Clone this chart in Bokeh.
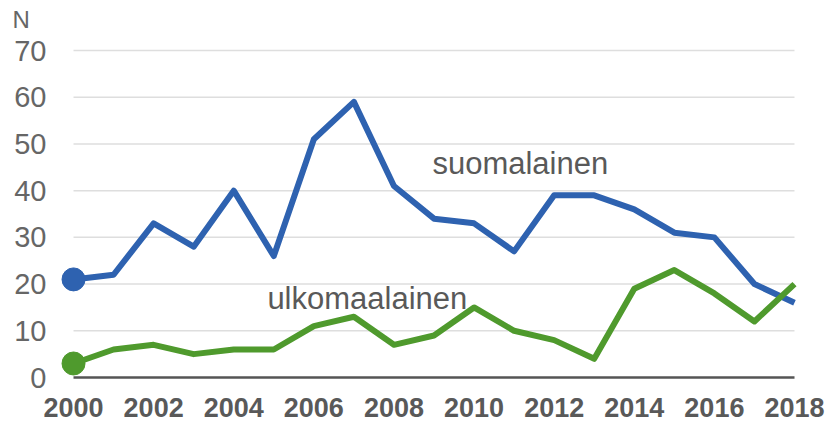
from bokeh.plotting import figure
from bokeh.models import Range1d, FixedTicker
from bokeh.embed import file_html
from bokeh.resources import INLINE
from bokeh.core.properties import value

years = list(range(2000, 2019))
suomalainen = [21, 22, 33, 28, 40, 26, 51, 59, 41, 34, 33, 27, 39, 39, 36, 31, 30, 20, 16]
ulkomaalainen = [3, 6, 7, 5, 6, 6, 11, 13, 7, 9, 15, 10, 8, 4, 19, 23, 18, 12, 20]
y_ticks = [0, 10, 20, 30, 40, 50, 60, 70]
x_ticks = [2000, 2002, 2004, 2006, 2008, 2010, 2012, 2014, 2016, 2018]
series_names = ["suomalainen", "ulkomaalainen"]
unit_label = "N"

BLUE = "#2E62B0"
GREEN = "#4F9A2D"
FONT = "Liberation Sans"

p = figure(width=829, height=421, output_backend="svg", toolbar_location=None,
           x_range=Range1d(1999.6, 2018.3), y_range=Range1d(0, 73),
           min_border_left=57, min_border_right=23, min_border_top=36, min_border_bottom=44)
p.outline_line_color = None
p.background_fill_color = "white"
p.border_fill_color = "white"
p.xgrid.visible = False
p.ygrid.visible = False

p.title.text = unit_label
p.title.align = "left"
p.title.offset = -45
p.title.text_font = FONT
p.title.text_font_size = "24px"
p.title.text_font_style = "normal"
p.title.text_color = "#666666"
p.title.standoff = 7

# grid lines as segments spanning the data years
gy = y_ticks[1:]
p.segment(x0=[years[0]] * len(gy), x1=[years[-1]] * len(gy), y0=gy, y1=gy,
          line_color="#dedede", line_width=1.5)

p.line(years, suomalainen, line_color=BLUE, line_width=6, line_join="round")
p.line(years, ulkomaalainen, line_color=GREEN, line_width=6, line_join="round")
p.scatter([years[0]], [suomalainen[0]], size=23, color=BLUE)
p.scatter([years[0]], [ulkomaalainen[0]], size=23, color=GREEN)

p.text(x=[2008.96, 2004.84], y=[45.8, 16.9], text=series_names,
       text_font=value(FONT), text_font_size="31px", text_color="#595959",
       text_baseline="middle", text_align="left")

p.xaxis.ticker = FixedTicker(ticks=x_ticks)
p.yaxis.ticker = FixedTicker(ticks=y_ticks)
for ax in (p.xaxis[0], p.yaxis[0]):
    ax.major_tick_line_color = None
    ax.minor_tick_line_color = None
    ax.major_tick_out = 0
    ax.major_tick_in = 0
    ax.major_label_text_font = FONT
p.yaxis.axis_line_color = None
p.xaxis.bounds = (years[0], years[-1])
p.xaxis.axis_line_color = "#555555"
p.xaxis.axis_line_width = 2.5
p.xaxis.major_label_text_font_size = "27px"
p.xaxis.major_label_text_font_style = "bold"
p.xaxis.major_label_text_color = "#595959"
p.xaxis.major_label_text_line_height = 0.8
p.xaxis.major_label_standoff = 20
p.yaxis.major_label_text_font_size = "29px"
p.yaxis.major_label_text_color = "#666666"
p.yaxis.major_label_standoff = 11

open("out.html", "w").write(file_html(p, INLINE))
